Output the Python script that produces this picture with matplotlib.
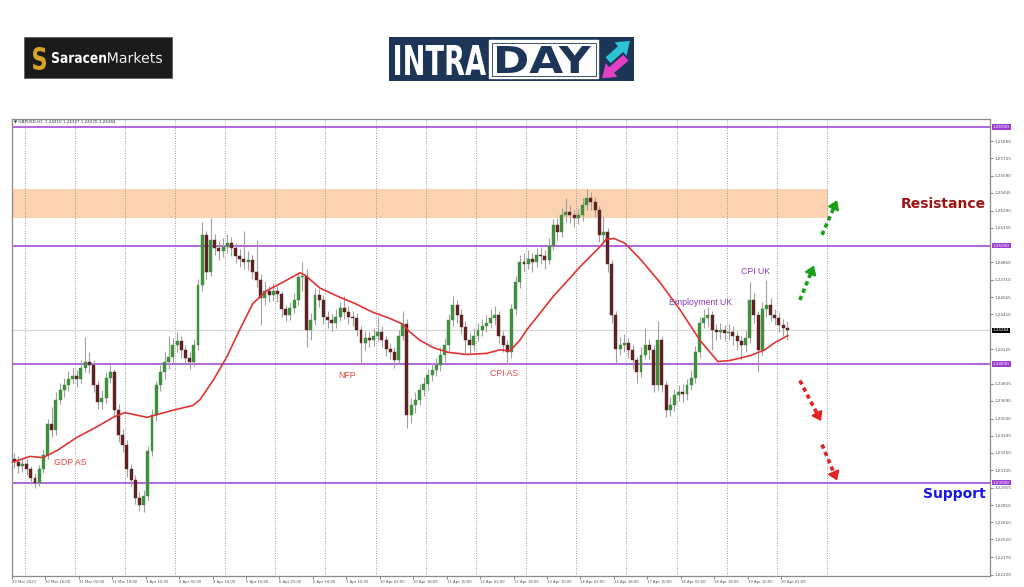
import matplotlib.pyplot as plt
import matplotlib.transforms as mtransforms
from matplotlib.patches import Rectangle, PathPatch
from matplotlib.textpath import TextPath
from matplotlib.font_manager import FontProperties

# GBPUSD H1, drawn as 2-hour bars
first_open = 1.2320
closes = [
    1.2317, 1.2314, 1.2316, 1.2311, 1.2304, 1.2300, 1.2311, 1.2323, 1.2349, 1.2344, 1.2370, 1.2378,
    1.2382, 1.2387, 1.2390, 1.2387, 1.2397, 1.2402, 1.2399, 1.2382, 1.2368, 1.2371, 1.2388, 1.2393,
    1.2361, 1.2340, 1.2332, 1.2311, 1.2302, 1.2287, 1.2281, 1.2289, 1.2327, 1.2357, 1.2382, 1.2393,
    1.2402, 1.2406, 1.2416, 1.2419, 1.2412, 1.2405, 1.2402, 1.2416, 1.2467, 1.2509, 1.2478, 1.2505,
    1.2498, 1.2495, 1.2499, 1.2502, 1.2498, 1.2491, 1.2489, 1.2486, 1.2488, 1.2478, 1.2471, 1.2456,
    1.2462, 1.2458, 1.2462, 1.2459, 1.2446, 1.2441, 1.2447, 1.2454, 1.2473, 1.2474, 1.2429, 1.2437,
    1.2458, 1.2454, 1.2440, 1.2437, 1.2435, 1.2440, 1.2447, 1.2444, 1.2440, 1.2439, 1.2429, 1.2418,
    1.2422, 1.2420, 1.2424, 1.2427, 1.2420, 1.2413, 1.2410, 1.2403, 1.2424, 1.2434, 1.2357, 1.2365,
    1.2370, 1.2378, 1.2383, 1.2391, 1.2395, 1.2399, 1.2408, 1.2416, 1.2437, 1.2450, 1.2441, 1.2431,
    1.2420, 1.2416, 1.2424, 1.2429, 1.2432, 1.2435, 1.2439, 1.2441, 1.2424, 1.2416, 1.2410, 1.2446,
    1.2469, 1.2486, 1.2484, 1.2489, 1.2486, 1.2492, 1.2491, 1.2488, 1.2500, 1.2517, 1.2511, 1.2526,
    1.2528, 1.2526, 1.2523, 1.2526, 1.2534, 1.2540, 1.2537, 1.2530, 1.2509, 1.2511, 1.2484, 1.2441,
    1.2413, 1.2416, 1.2418, 1.2412, 1.2403, 1.2393, 1.2408, 1.2416, 1.2412, 1.2382, 1.2420, 1.2382,
    1.2361, 1.2365, 1.2374, 1.2376, 1.2375, 1.2382, 1.2388, 1.2410, 1.2435, 1.2439, 1.2441, 1.2429,
    1.2427, 1.2429, 1.2426, 1.2427, 1.2424, 1.2419, 1.2416, 1.2422, 1.2454, 1.2441, 1.2412, 1.2446,
    1.2450, 1.2441, 1.2439, 1.2433, 1.2430, 1.24284,
]
highs = [
    1.2325, 1.2322, 1.2321, 1.2320, 1.2314, 1.2308, 1.2315, 1.2328, 1.2354, 1.2364, 1.2376, 1.2384,
    1.2388, 1.2394, 1.2397, 1.2395, 1.2403, 1.2423, 1.2410, 1.2403, 1.2386, 1.2378, 1.2393, 1.2399,
    1.2396, 1.2366, 1.2345, 1.2336, 1.2316, 1.2306, 1.2292, 1.2294, 1.2331, 1.2362, 1.2386, 1.2399,
    1.2410, 1.2424, 1.2422, 1.2427, 1.2424, 1.2416, 1.2410, 1.2421, 1.2472, 1.2520, 1.2512, 1.2523,
    1.2510, 1.2504, 1.2506, 1.2510, 1.2507, 1.2502, 1.2497, 1.2512, 1.2495, 1.2492, 1.2505, 1.2476,
    1.2470, 1.2466, 1.2468, 1.2466, 1.2462, 1.2450, 1.2452, 1.2460, 1.2477, 1.2486, 1.2480, 1.2443,
    1.2464, 1.2463, 1.2458, 1.2445, 1.2442, 1.2446, 1.2452, 1.2457, 1.2449, 1.2445, 1.2443, 1.2432,
    1.2428, 1.2427, 1.2430, 1.2440, 1.2432, 1.2424, 1.2418, 1.2414, 1.2429, 1.2445, 1.2438, 1.2371,
    1.2376, 1.2383, 1.2389, 1.2396, 1.2401, 1.2405, 1.2414, 1.2422, 1.2442, 1.2457, 1.2454, 1.2446,
    1.2436, 1.2426, 1.2430, 1.2435, 1.2438, 1.2441, 1.2446, 1.2449, 1.2445, 1.2428, 1.2420, 1.2451,
    1.2474, 1.2492, 1.2494, 1.2496, 1.2494, 1.2498, 1.2499, 1.2496, 1.2506, 1.2522, 1.2523, 1.2532,
    1.2540, 1.2534, 1.2530, 1.2532, 1.2540, 1.2548, 1.2545, 1.2541, 1.2533, 1.2525, 1.2515, 1.2488,
    1.2445, 1.2423, 1.2425, 1.2422, 1.2416, 1.2406, 1.2414, 1.2430, 1.2421, 1.2416, 1.2436, 1.2424,
    1.2386, 1.2372, 1.2379, 1.2382, 1.2383, 1.2387, 1.2395, 1.2415, 1.2440, 1.2446, 1.2448, 1.2445,
    1.2434, 1.2435, 1.2433, 1.2434, 1.2432, 1.2428, 1.2424, 1.2428, 1.2469, 1.2460, 1.2445, 1.2452,
    1.2471, 1.2456, 1.2446, 1.2443, 1.2438, 1.2436,
]
lows = [
    1.2312, 1.2308, 1.2309, 1.2306, 1.2299, 1.2295, 1.2297, 1.2308, 1.2320, 1.2338, 1.2340, 1.2366,
    1.2372, 1.2377, 1.2383, 1.2381, 1.2384, 1.2393, 1.2392, 1.2376, 1.2362, 1.2362, 1.2367, 1.2384,
    1.2356, 1.2334, 1.2326, 1.2305, 1.2296, 1.2282, 1.2276, 1.2275, 1.2285, 1.2322, 1.2352, 1.2377,
    1.2387, 1.2396, 1.2400, 1.2410, 1.2405, 1.2399, 1.2396, 1.2398, 1.2412, 1.2462, 1.2472, 1.2474,
    1.2492, 1.2488, 1.2490, 1.2494, 1.2491, 1.2485, 1.2482, 1.2480, 1.2479, 1.2472, 1.2465, 1.2433,
    1.2450, 1.2452, 1.2453, 1.2452, 1.2440, 1.2436, 1.2437, 1.2443, 1.2450, 1.2462, 1.2414, 1.2420,
    1.2433, 1.2448, 1.2434, 1.2430, 1.2428, 1.2430, 1.2436, 1.2438, 1.2434, 1.2432, 1.2424, 1.2400,
    1.2412, 1.2414, 1.2415, 1.2419, 1.2414, 1.2407, 1.2404, 1.2397, 1.2400, 1.2420, 1.2346, 1.2350,
    1.2359, 1.2365, 1.2373, 1.2378, 1.2386, 1.2390, 1.2394, 1.2402, 1.2411, 1.2432, 1.2435, 1.2425,
    1.2409, 1.2409, 1.2411, 1.2419, 1.2424, 1.2427, 1.2430, 1.2433, 1.2418, 1.2410, 1.2400, 1.2405,
    1.2441, 1.2464, 1.2478, 1.2480, 1.2478, 1.2482, 1.2484, 1.2480, 1.2484, 1.2496, 1.2505, 1.2507,
    1.2520, 1.2519, 1.2516, 1.2518, 1.2521, 1.2530, 1.2530, 1.2524, 1.2503, 1.2502, 1.2478, 1.2435,
    1.2401, 1.2408, 1.2410, 1.2405, 1.2396, 1.2384, 1.2389, 1.2404, 1.2404, 1.2376, 1.2378, 1.2376,
    1.2355, 1.2356, 1.2360, 1.2369, 1.2368, 1.2370, 1.2378, 1.2384, 1.2405, 1.2430, 1.2432, 1.2412,
    1.2420, 1.2421, 1.2419, 1.2420, 1.2416, 1.2412, 1.2403, 1.2410, 1.2418, 1.2435, 1.2393, 1.2408,
    1.2440, 1.2436, 1.2433, 1.2427, 1.2424, 1.2420,
]
opens = [first_open] + closes[:-1]

# red moving average, sampled along the bars
ma_bars = [-0.5, 3.8, 6.9, 10.3, 15.0, 19.8, 23.7, 26.5, 31.8, 38.0, 42.8, 44.5, 47.6, 50.9,
           54.0, 57.1, 60.5, 64.3, 68.4, 69.6, 73.2, 77.5, 81.6, 85.6, 89.5, 92.8, 94.7, 97.1,
           100.2, 103.6, 108.3, 113.1, 116.3, 118.6, 121.0, 122.7, 129.0, 135.4, 140.2, 141.6,
           143.5, 146.1, 149.7, 154.5, 159.3, 164.1, 168.4, 171.3, 176.1, 179.6, 182.0, 185.1]
ma_vals = [1.2317, 1.2322, 1.2321, 1.2327, 1.2338, 1.2347, 1.2355, 1.2359, 1.2355, 1.2361,
           1.2365, 1.2370, 1.2386, 1.2406, 1.2429, 1.2451, 1.2462, 1.2469, 1.2477, 1.2475,
           1.2464, 1.2457, 1.2451, 1.2444, 1.2439, 1.2434, 1.2427, 1.2420, 1.2414, 1.2410,
           1.2408, 1.2409, 1.2412, 1.2411, 1.2420, 1.2429, 1.2457, 1.2482, 1.2499, 1.2505,
           1.2506, 1.2502, 1.2489, 1.2469, 1.2446, 1.2420, 1.2402, 1.2403, 1.2407, 1.2412,
           1.2418, 1.2424]

levels = [1.26, 1.25, 1.24, 1.23]
last_price = 1.24284
zone_low, zone_high, zone_end = 1.25232, 1.25477, 194.7

events = ["GDP AS", "NFP", "CPI AS", "Employment UK", "CPI UK"]
event_bars = [13.4, 79.6, 117.2, 164.3, 177.5]
event_prices = [1.2317, 1.2390, 1.2392, 1.2452, 1.2478]
event_colors = ["#e8453c", "#e8453c", "#e8453c", "#8a3ab9", "#8a3ab9"]

x_labels = ["29 Mar 2023", "30 Mar 10:00", "31 Mar 02:00", "31 Mar 18:00", "3 Apr 10:00",
            "4 Apr 02:00", "4 Apr 18:00", "5 Apr 10:00", "6 Apr 02:00", "6 Apr 18:00",
            "7 Apr 10:00", "10 Apr 02:00", "10 Apr 18:00", "11 Apr 10:00", "12 Apr 02:00",
            "12 Apr 18:00", "13 Apr 10:00", "14 Apr 02:00", "14 Apr 18:00", "17 Apr 10:00",
            "18 Apr 02:00", "18 Apr 18:00", "19 Apr 10:00", "20 Apr 02:00"]
y_ticks = [1.25880, 1.25735, 1.25590, 1.25445, 1.25295, 1.25150, 1.24860, 1.24710, 1.24565,
           1.24420, 1.24125, 1.23835, 1.23690, 1.23540, 1.23395, 1.23250, 1.23105, 1.22955,
           1.22810, 1.22665, 1.22520, 1.22370, 1.22220]

# dashed scenario arrows: (start bar, start price, end bar, end price)
up_arrows = [(188.0, 1.2454, 190.9, 1.2479), (193.3, 1.2509, 196.4, 1.2534)]
down_arrows = [(188.0, 1.2386, 192.3, 1.2357), (193.3, 1.2332, 196.4, 1.2306)]


def fit_text(axo, s, x0, x1, ytop, ybot, color, weight="bold"):
    # stretch a text outline into a pixel box (overlay axes has y pointing down)
    tp = TextPath((0, 0), s, size=1, prop=FontProperties(family="DejaVu Sans", weight=weight))
    ext = tp.get_extents()
    tr = (mtransforms.Affine2D().translate(-ext.x0, -ext.y0)
          .scale((x1 - x0) / ext.width, -(ybot - ytop) / ext.height).translate(x0, ybot))
    axo.add_patch(PathPatch(tr.transform_path(tp), facecolor=color, edgecolor="none", lw=0))


fig = plt.figure(figsize=(10.24, 5.87), dpi=100)
fig.patch.set_facecolor("white")
ax = fig.add_axes([12 / 1024, 11 / 587, 978 / 1024, 457 / 587])
ax.set_xlim(-0.5, 233.5)
ax.set_ylim(1.22211, 1.260675)

ax.add_patch(Rectangle((-0.5, zone_low), zone_end + 0.5, zone_high - zone_low,
                       facecolor="#fbd3b0", edgecolor="none", zorder=0))

for i in range(17):
    ax.axvline(2.5 + 12 * i, color="#808080", lw=0.6, ls=(0, (1, 2)), zorder=1)

ax.axhline(last_price, color="#d8d8d8", lw=0.9, zorder=1)
for lv in levels:
    ax.axhline(lv, color="#9b3fd0", lw=1.1, zorder=2)

bars = range(len(closes))
ax.vlines(bars, lows, highs, color="#a0a0a0", lw=0.8, zorder=3)
for k in bars:
    o, c = opens[k], closes[k]
    col = "#3f8f3f" if c >= o else "#5e2222"
    h = max(abs(c - o), 0.00004)
    ax.bar(k, h, bottom=min(o, c), width=0.7, color=col, edgecolor=col, lw=0.3, zorder=4)

ax.plot(ma_bars, ma_vals, color="#e03434", lw=1.2, zorder=5, solid_joinstyle="round")

for name, xb, yp, col in zip(events, event_bars, event_prices, event_colors):
    ax.text(xb, yp, name, color=col, fontsize=6.3, ha="center", va="center",
            family=["Liberation Sans", "DejaVu Sans"], zorder=6)

for arrows, col in ((up_arrows, "#18a018"), (down_arrows, "#e02424")):
    for x0, y0, x1, y1 in arrows:
        ax.plot([x0, x1], [y0, y1], color=col, lw=2.6, ls=(0, (1.2, 1.0)), zorder=6)
        ax.annotate("", xy=(x1 + (x1 - x0) * 0.25, y1 + (y1 - y0) * 0.25), xytext=(x1, y1),
                    arrowprops=dict(arrowstyle="-|>,head_length=0.5,head_width=0.35",
                                    color=col, lw=1.5), zorder=6)

trans = mtransforms.blended_transform_factory(ax.transAxes, ax.transData)
ax.text(0.996, 1.25354, "Resistance", transform=trans, ha="right", va="center",
        fontsize=10, fontweight="bold", color="#9e1414", zorder=7)
ax.text(0.996, 1.22904, "Support", transform=trans, ha="right", va="center",
        fontsize=10, fontweight="bold", color="#1616e6", zorder=7)

ax.text(0.002, 0.9935, "\u25bc GBPUSD,H1  1.24310 1.24327 1.24276 1.24284",
        transform=ax.transAxes, fontsize=3, color="#333333", va="center", ha="left")

# axes styling, MT4-like
for sp in ax.spines.values():
    sp.set_color("#8a8a8a")
    sp.set_linewidth(0.9)
ax.yaxis.tick_right()
ax.set_yticks(y_ticks)
ax.set_yticklabels([f"{v:.5f}" for v in y_ticks])
ax.tick_params(axis="y", labelsize=3, colors="#555555", length=2, width=0.5, pad=1.5)
ax.set_xticks([-0.5 + 8 * i for i in range(len(x_labels))])
ax.set_xticklabels(x_labels, ha="left")
ax.tick_params(axis="x", labelsize=2.7, colors="#555555", length=2, width=0.5, pad=1)

for lv in levels:
    ax.text(1.003, lv, f"{lv:.5f}", transform=trans, fontsize=3, color="white",
            va="center", ha="left",
            bbox=dict(boxstyle="square,pad=0.2", fc="#9b3fd0", ec="none"))
ax.text(1.003, last_price, f"{last_price:.5f}", transform=trans, fontsize=3, color="white",
        va="center", ha="left", bbox=dict(boxstyle="square,pad=0.2", fc="black", ec="none"))

# header logos, in pixel coordinates
ov = fig.add_axes([0, 0, 1, 1])
ov.set_xlim(0, 1024)
ov.set_ylim(587, 0)
ov.axis("off")
ov.patch.set_alpha(0)

ov.add_patch(Rectangle((24, 37), 148, 41, facecolor="#1b1b1b", edgecolor="#555555", lw=0.5))
fit_text(ov, "S", 33, 46, 47, 70, "#d8a428")
fit_text(ov, "Saracen", 52, 106, 52, 63, "white")
fit_text(ov, "Markets", 108, 162, 52, 63, "#f0f0f0", weight="normal")

ov.add_patch(Rectangle((389, 37), 245, 44, facecolor="#1d3557", edgecolor="none"))
fit_text(ov, "INTRA", 395, 486, 45, 75, "white")
ov.add_patch(Rectangle((489, 40), 109, 38, facecolor="white", edgecolor="white"))
ov.add_patch(Rectangle((491.5, 42.5), 104, 33, facecolor="none", edgecolor="#1d3557", lw=0.6))
fit_text(ov, "DAY", 497, 591, 46, 73, "#1d3557")
ov.annotate("", xy=(632, 39), xytext=(606, 62),
            arrowprops=dict(arrowstyle="simple,head_width=1.3,head_length=0.9,tail_width=0.55",
                            color="#2cc3d5", lw=0))
ov.annotate("", xy=(600, 80), xytext=(628, 56),
            arrowprops=dict(arrowstyle="simple,head_width=1.3,head_length=0.9,tail_width=0.55",
                            color="#e23fc4", lw=0))

fig.savefig("out.png", dpi=100)
